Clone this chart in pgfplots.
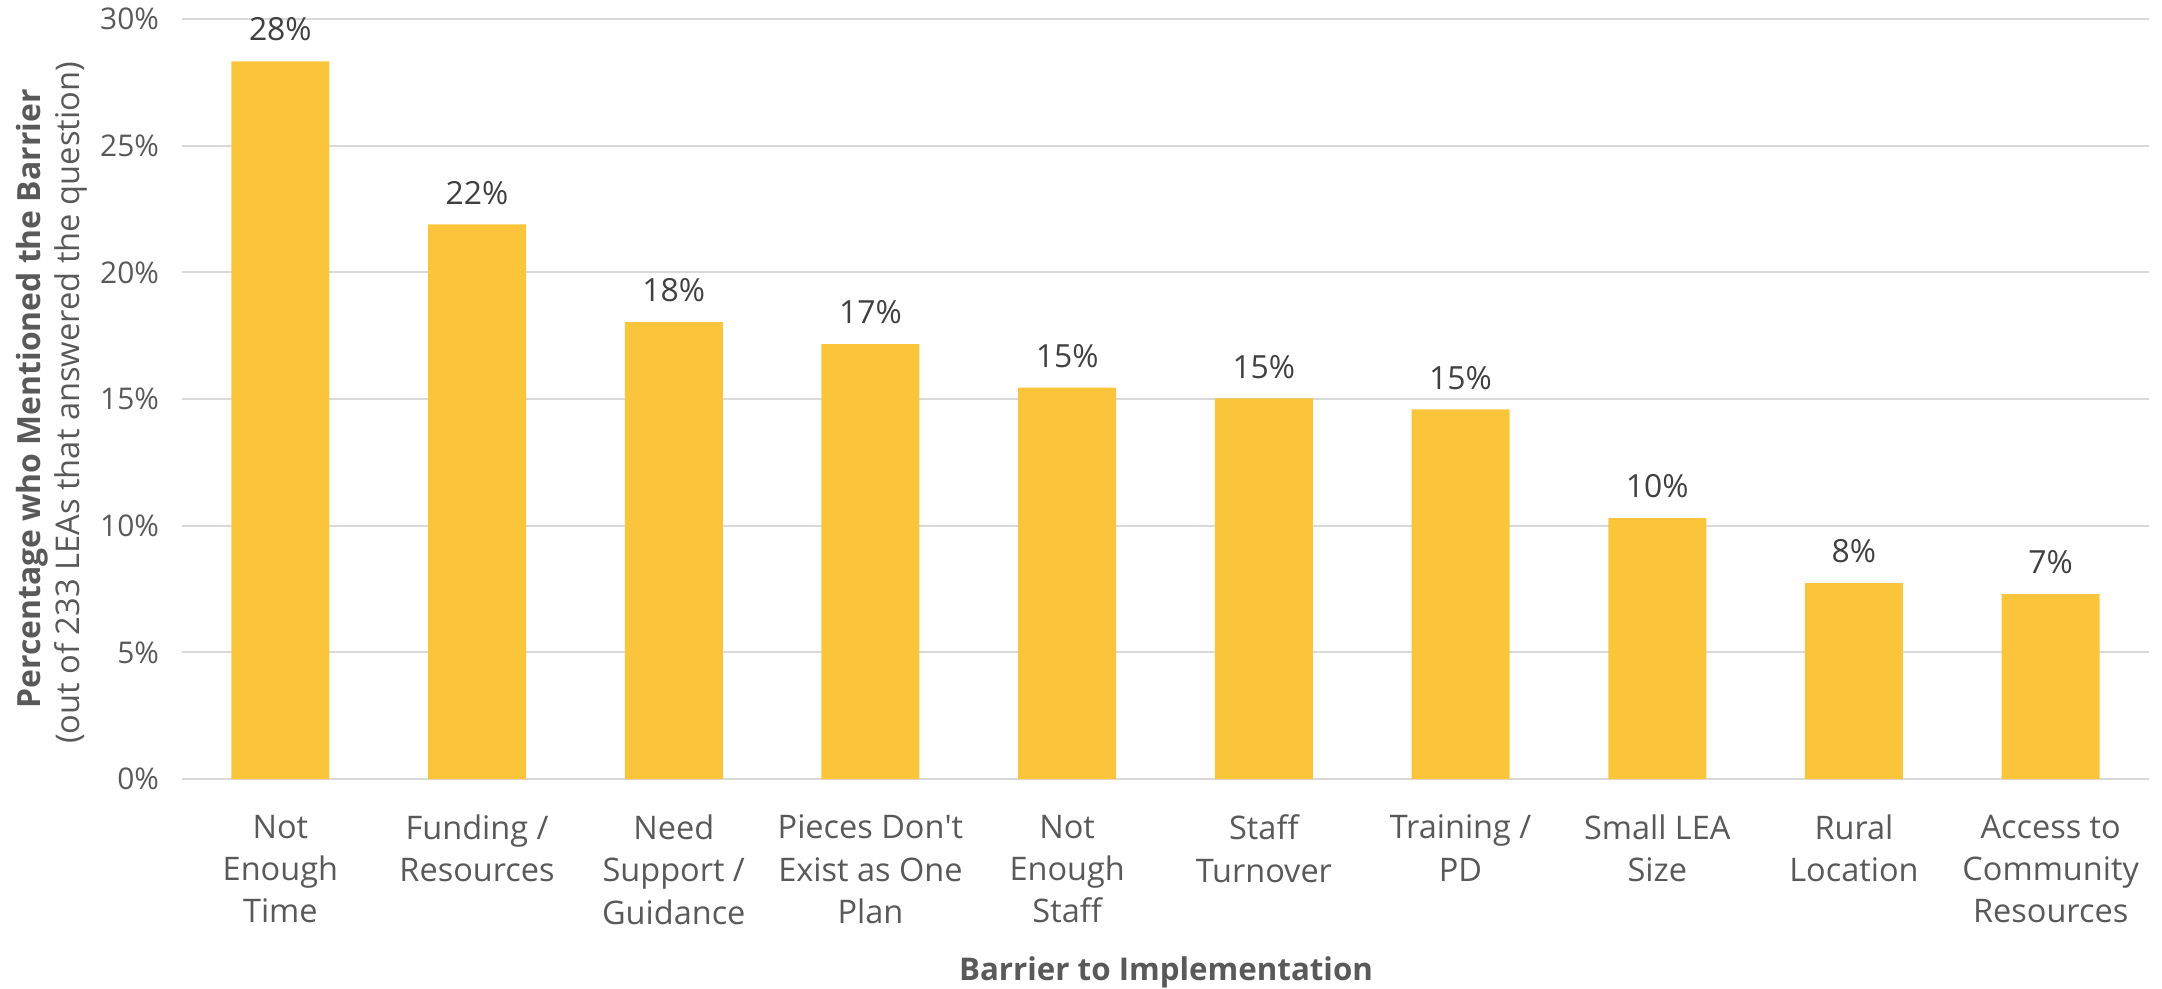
\documentclass[border=0pt]{standalone}
\usepackage{fontspec}
\setmainfont{Open Sans}
\usepackage{pgfplots}
\pgfplotsset{compat=1.18}
\definecolor{barc}{HTML}{FAC43B}
\definecolor{txt}{HTML}{595959}
\definecolor{lbl}{HTML}{404040}
\definecolor{gridc}{HTML}{D9D9D9}
\begin{document}
\begin{tikzpicture}
\path[use as bounding box] (0,0) rectangle (1081bp,494.5bp);
\begin{axis}[
  at={(91bp,105bp)}, anchor=south west,
  width=983.5bp, height=380bp, scale only axis,
  xmin=-0.5, xmax=9.5, ymin=0, ymax=30,
  xtick={0,...,9},
  xticklabels={{Not\\Enough\\Time},{Funding /\\Resources},{Need\\Support /\\Guidance},{Pieces Don\textquotesingle t\\Exist as One\\Plan},{Not\\Enough\\Staff},{Staff\\Turnover},{Training /\\PD},{Small LEA\\Size},{Rural\\Location},{Access to\\Community\\Resources}},
  xticklabel style={align=center, text=txt, font=\fontsize{16.3}{21.2}\selectfont, yshift=-14.5bp},
  ytick={0,5,...,30},
  yticklabel={\pgfmathprintnumber{\tick}\%},
  yticklabel style={text=txt, font=\fontsize{15}{18}\selectfont, xshift=-8bp},
  /pgf/number format/assume math mode=true,
  major tick length=0pt,
  axis line style={draw=none},
  ymajorgrids, grid style={gridc, line width=1bp},
  ybar, bar width=49bp,
  nodes near coords={\pgfmathprintnumber[fixed,precision=0]{\pgfplotspointmeta}\%},
  every node near coord/.append style={text=lbl, font=\fontsize{16}{18}\selectfont, yshift=6.5bp},
  clip=false,
]
\addplot[fill=barc, draw=none] coordinates {
(0,28.33) (1,21.89) (2,18.03) (3,17.17) (4,15.45) (5,15.02) (6,14.59) (7,10.30) (8,7.73) (9,7.30)};
\end{axis}
\node[rotate=90, anchor=base, text=txt, font=\bfseries\fontsize{16}{18}\selectfont] at (20bp,295bp)
 {Percentage who Mentioned the Barrier};
\node[rotate=90, anchor=base, text=txt, font=\fontsize{16.4}{18}\selectfont] at (39.5bp,293bp)
 {(out of 233 LEAs that answered the question)};
\node[anchor=base, text=txt, font=\bfseries\fontsize{15.7}{18}\selectfont] at (583bp,4.5bp) {Barrier to Implementation};
\end{tikzpicture}
\end{document}
